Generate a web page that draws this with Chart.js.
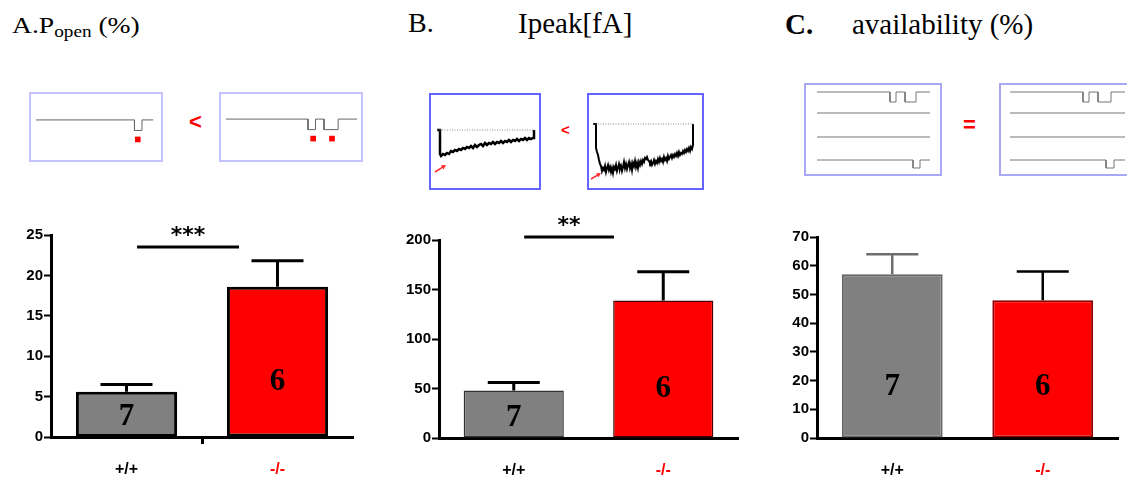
<!DOCTYPE html>
<html>
<head>
<meta charset="utf-8">
<title>Popen / Ipeak / availability</title>
<script src="https://cdn.jsdelivr.net/npm/chart.js@4.4.1/dist/chart.umd.min.js"></script>
<style>
  html, body { margin: 0; padding: 0; background: #fff; }
  body { width: 1127px; height: 486px; position: relative; overflow: hidden; }
  .title { position: absolute; font-family: "Liberation Serif", "Times New Roman", serif; line-height: 1; white-space: nowrap; color: #000; }
  .sym { position: absolute; color: #ff0000; font-family: "Liberation Sans", Arial, sans-serif; font-weight: bold; line-height: 1; }
  .inset { position: absolute; box-sizing: border-box; background: #fff; }
  .inset canvas { display: block; }
  canvas.main { position: absolute; }
</style>
</head>
<body>

<!-- panel titles -->
<div class="title" style="left:12px;top:14px;font-size:23px;transform:scaleX(1.2);transform-origin:0 0">A.P<span style="font-size:16px;position:relative;top:4px">open</span> (%)</div>
<div class="title" style="left:408px;top:9px;font-size:28px">B.</div>
<div class="title" style="left:518px;top:9px;font-size:29px">Ipeak[fA]</div>
<div class="title" style="left:785px;top:10px;font-size:29px;font-weight:bold">C.</div>
<div class="title" style="left:852px;top:10px;font-size:29px">availability (%)</div>

<!-- example recordings -->
<div class="inset" style="left:29px;top:92px;width:134px;height:70px;border:2px solid #c2c2ff"><canvas id="popenTraceWT" width="130" height="66"></canvas></div>
<div class="sym" style="left:189px;top:111px;font-size:22px">&lt;</div>
<div class="inset" style="left:219px;top:92px;width:144px;height:70px;border:2px solid #c2c2ff"><canvas id="popenTraceKO" width="140" height="66"></canvas></div>

<div class="inset" style="left:429px;top:93px;width:112px;height:97px;border:2px solid #6464ff"><canvas id="ipeakTraceWT" width="108" height="93"></canvas></div>
<div class="sym" style="left:561px;top:122px;font-size:15px">&lt;</div>
<div class="inset" style="left:587px;top:93px;width:117px;height:97px;border:2px solid #6464ff"><canvas id="ipeakTraceKO" width="113" height="93"></canvas></div>

<div class="inset" style="left:804px;top:83px;width:138px;height:93px;border:2px solid #a8a8f4"><canvas id="availTraceWT" width="134" height="89"></canvas></div>
<div class="sym" style="left:963px;top:114px;font-size:22px">=</div>
<div class="inset" style="left:999px;top:83px;width:138px;height:93px;border:2px solid #a8a8f4"><canvas id="availTraceKO" width="134" height="89"></canvas></div>

<!-- summary bar charts -->
<canvas id="popenChart" class="main" style="left:0;top:210px" width="372" height="276"></canvas>
<canvas id="ipeakChart" class="main" style="left:390px;top:210px" width="360" height="276"></canvas>
<canvas id="availChart" class="main" style="left:765px;top:210px" width="362" height="276"></canvas>

<script>
/* ---------- data ---------- */
const genotypes = ['+/+', '-/-'];
const genotypeColors = ['#000000', '#ff0000'];
const barFills = ['#808080', '#ff0000'];
const cellCounts = [7, 6];

const popenMean = [5.6, 18.6];
const popenSem = [0.9, 3.2];
const popenTicks = [0, 5, 10, 15, 20, 25];

const ipeakMean = [48, 139];
const ipeakSem = [8, 29];
const ipeakTicks = [0, 50, 100, 150, 200];

const availMean = [57, 48];
const availSem = [7, 10];
const availTicks = [0, 10, 20, 30, 40, 50, 60, 70];

// single-channel sweeps, [ms, pA], open level = -1 pA
const popenSweepWT = [[1, 0], [106, 0], [106, -1], [114, -1], [114, 0], [126, 0]];
const popenSweepKO = [[1, 0], [88, 0], [88, -1], [96, -1], [96, 0], [105, 0], [105, -1], [120, -1], [120, 0], [140, 0]];
const popenOpeningsWT = [109.5];
const popenOpeningsKO = [93.5, 113.5];

// ensemble average currents, [ms, fA]
const ipeakTraceWT = [[6, 0], [9, 0], [9, -24], [10, -26], [12, -24], [14, -25], [16, -23], [18, -24], [20, -21], [22, -22],
  [24, -20], [26, -21], [28, -19], [30, -20], [32, -18], [34, -19], [36, -17], [38, -18], [40, -16], [42, -18], [44, -15],
  [46, -17], [48, -15], [50, -14], [52, -16], [54, -13], [56, -15], [58, -13], [60, -14], [62, -12], [64, -14], [66, -12],
  [68, -13], [70, -11], [72, -13], [74, -11], [76, -12], [78, -10], [80, -12], [82, -10], [84, -11], [86, -9], [88, -11],
  [90, -9], [92, -10], [94, -8], [96, -10], [98, -8], [100, -9], [102, -8], [103, -8], [103, 0]];
const ipeakTraceKO = [[4, 0], [7, 0], [7, -24], [8, -28], [9, -31], [10, -36], [11, -40], [12, -42], [13, -47], [14, -44],
  [15, -46], [16, -42], [17, -48], [18, -44], [19, -41], [20, -46], [21, -43], [22, -48], [23, -44], [24, -49], [25, -43],
  [26, -45], [27, -41], [28, -47], [29, -44], [30, -40], [31, -45], [32, -42], [33, -47], [34, -43], [35, -38], [36, -44],
  [37, -40], [38, -45], [39, -41], [40, -38], [41, -44], [42, -40], [43, -46], [44, -39], [45, -42], [46, -37], [47, -43],
  [48, -39], [49, -44], [50, -38], [51, -41], [52, -37], [53, -40], [54, -36], [55, -38], [56, -34], [57, -35], [58, -33],
  [59, -36], [60, -37], [61, -39], [62, -37], [63, -41], [64, -39], [65, -36], [66, -40], [67, -37], [68, -39], [69, -35],
  [70, -38], [71, -34], [72, -37], [73, -35], [74, -38], [75, -33], [76, -36], [77, -34], [78, -37], [79, -32], [80, -35],
  [81, -33], [82, -31], [83, -34], [84, -31], [85, -33], [86, -30], [87, -32], [88, -29], [89, -32], [90, -28], [91, -31],
  [92, -29], [93, -30], [94, -27], [95, -29], [96, -26], [97, -28], [98, -25], [99, -27], [100, -24], [101, -27],
  [102, -23], [103, -25], [104, -21], [104, 0]];
const ipeakBaselineWT = [[6, 0], [104, 0]];
const ipeakBaselineKO = [[4, 0], [106, 0]];

// four consecutive sweeps per patch, [ms, pA]
const availSweepsWT = [
  [[11, 0], [84, 0], [84, -1], [90, -1], [90, 0], [99, 0], [99, -1], [110, -1], [110, 0], [124, 0]],
  [[11, 0], [124, 0]],
  [[11, 0], [124, 0]],
  [[11, 0], [107, 0], [107, -0.8], [114, -0.8], [114, 0], [124, 0]]
];
const availSweepsKO = [
  [[9, 0], [82, 0], [82, -1], [88, -1], [88, 0], [97, 0], [97, -1], [110, -1], [110, 0], [124, 0]],
  [[9, 0], [124, 0]],
  [[9, 0], [124, 0]],
  [[9, 0], [105, 0], [105, -0.8], [113, -0.8], [113, 0], [124, 0]]
];

/* ---------- helpers ---------- */
Chart.defaults.animation = false;
Chart.defaults.devicePixelRatio = 1;

const tickFont = { family: 'Liberation Sans', size: 15, weight: 'bold' };
const labelFont = { family: 'Liberation Sans', size: 16, weight: 'bold' };

function errorBars(sem, colors, width, capHalf) {
  return {
    id: 'errorBars',
    afterDatasetsDraw(chart) {
      const { ctx } = chart;
      const y = chart.scales.y;
      const values = chart.data.datasets[0].data;
      chart.getDatasetMeta(0).data.forEach((bar, i) => {
        const base = y.getPixelForValue(values[i]);
        const tip = y.getPixelForValue(values[i] + sem[i]);
        ctx.save();
        ctx.strokeStyle = colors[i];
        ctx.lineWidth = width;
        ctx.beginPath();
        ctx.moveTo(bar.x, base);
        ctx.lineTo(bar.x, tip);
        ctx.moveTo(bar.x - capHalf, tip);
        ctx.lineTo(bar.x + capHalf, tip);
        ctx.stroke();
        ctx.restore();
      });
    }
  };
}

function countLabels(levels) {
  return {
    id: 'countLabels',
    afterDatasetsDraw(chart) {
      const { ctx } = chart;
      const y = chart.scales.y;
      chart.getDatasetMeta(0).data.forEach((bar, i) => {
        ctx.save();
        ctx.fillStyle = '#000';
        ctx.font = 'bold 31px "Liberation Serif"';
        ctx.textAlign = 'center';
        ctx.textBaseline = 'middle';
        ctx.fillText(String(cellCounts[i]), bar.x, y.getPixelForValue(levels[i]));
        ctx.restore();
      });
    }
  };
}

function sigBracket(from, to, level, stars) {
  return {
    id: 'sigBracket',
    afterDraw(chart) {
      const { ctx, scales: { x, y } } = chart;
      const x0 = x.getPixelForValue(from);
      const x1 = x.getPixelForValue(to);
      const py = y.getPixelForValue(level);
      ctx.save();
      ctx.strokeStyle = '#000';
      ctx.lineWidth = 3;
      ctx.beginPath();
      ctx.moveTo(x0, py);
      ctx.lineTo(x1, py);
      ctx.stroke();
      ctx.fillStyle = '#000';
      ctx.font = 'bold 22px "DejaVu Sans"';
      ctx.textAlign = 'center';
      ctx.textBaseline = 'alphabetic';
      ctx.fillText(stars, (x0 + x1) / 2, py - 5);
      ctx.restore();
    }
  };
}

function barChart(id, o) {
  return new Chart(document.getElementById(id), {
    type: 'bar',
    data: {
      labels: genotypes,
      datasets: [{
        data: o.mean,
        backgroundColor: barFills,
        borderColor: o.edge,
        borderWidth: o.edgeWidth,
        borderSkipped: false,
        categoryPercentage: 1,
        barPercentage: 0.67
      }]
    },
    options: {
      responsive: false,
      layout: { padding: { left: 0, right: o.padRight, top: o.padTop, bottom: 0 } },
      plugins: { legend: { display: false }, tooltip: { enabled: false } },
      scales: {
        x: {
          offset: true,
          grid: {
            display: true, offset: true, drawOnChartArea: false, drawTicks: true,
            tickLength: 7, tickWidth: 3,
            tickColor: ctx => (o.midTick && ctx.index === 1) ? '#000' : 'rgba(0,0,0,0)'
          },
          border: { display: true, color: '#000', width: 3 },
          ticks: { color: ctx => genotypeColors[ctx.index], font: labelFont, padding: 16 },
          afterFit: s => { s.height = o.xHeight; }
        },
        y: {
          min: 0,
          max: o.ticks[o.ticks.length - 1],
          afterBuildTicks: s => { s.ticks = o.ticks.map(v => ({ value: v })); },
          grid: { drawOnChartArea: false, drawTicks: true, tickLength: 7, tickWidth: 2, tickColor: '#000' },
          border: { display: true, color: '#000', width: 3 },
          ticks: { color: '#000', font: tickFont, padding: 1 },
          afterFit: s => { s.width = o.yWidth; }
        }
      }
    },
    plugins: o.plugins
  });
}

function traceChart(id, xMax, yMin, yMax, datasets, plugins) {
  return new Chart(document.getElementById(id), {
    type: 'scatter',
    data: { datasets },
    options: {
      responsive: false,
      layout: { padding: 0 },
      elements: { line: { tension: 0 } },
      plugins: { legend: { display: false }, tooltip: { enabled: false } },
      scales: {
        x: { type: 'linear', min: 0, max: xMax, display: false },
        y: { type: 'linear', min: yMin, max: yMax, display: false }
      }
    },
    plugins: plugins || []
  });
}

const toPoints = arr => arr.map(([t, v]) => ({ x: t, y: v }));

function sweepLine(arr, color, width, offset) {
  return {
    data: arr.map(([t, v]) => ({ x: t, y: v + (offset || 0) })),
    showLine: true, pointRadius: 0, borderColor: color, borderWidth: width
  };
}

function openingMarks(times, level) {
  return {
    data: times.map(t => ({ x: t, y: level })),
    showLine: false, pointStyle: 'rect', pointRadius: 4,
    backgroundColor: '#ff0000', borderColor: '#ff0000', borderWidth: 0
  };
}

function redArrow(tail, tip) {
  return {
    id: 'redArrow',
    afterDatasetsDraw(chart) {
      const { ctx, scales: { x, y } } = chart;
      const x0 = x.getPixelForValue(tail[0]), y0 = y.getPixelForValue(tail[1]);
      const x1 = x.getPixelForValue(tip[0]), y1 = y.getPixelForValue(tip[1]);
      const a = Math.atan2(y1 - y0, x1 - x0);
      ctx.save();
      ctx.strokeStyle = '#ff2a2a';
      ctx.fillStyle = '#ff2a2a';
      ctx.lineWidth = 1.5;
      ctx.beginPath();
      ctx.moveTo(x0, y0);
      ctx.lineTo(x1 - 3 * Math.cos(a), y1 - 3 * Math.sin(a));
      ctx.stroke();
      ctx.beginPath();
      ctx.moveTo(x1, y1);
      ctx.lineTo(x1 - 5 * Math.cos(a - 0.5), y1 - 5 * Math.sin(a - 0.5));
      ctx.lineTo(x1 - 5 * Math.cos(a + 0.5), y1 - 5 * Math.sin(a + 0.5));
      ctx.closePath();
      ctx.fill();
      ctx.restore();
    }
  };
}

/* ---------- A: open probability ---------- */
traceChart('popenTraceWT', 130, -3.42, 2.08, [
  sweepLine(popenSweepWT, '#666', 1),
  openingMarks(popenOpeningsWT, -1.85)
]);
traceChart('popenTraceKO', 140, -3.5, 2.0, [
  sweepLine(popenSweepKO, '#666', 1),
  openingMarks(popenOpeningsKO, -1.85)
]);

barChart('popenChart', {
  mean: popenMean, ticks: popenTicks,
  edge: '#000', edgeWidth: 3, midTick: true,
  yWidth: 51, xHeight: 49, padTop: 25, padRight: 19,
  plugins: [
    errorBars(popenSem, ['#000', '#000'], 3, 26),
    countLabels([2.5, 6.8]),
    sigBracket(0.07, 0.745, 23.5, '***')
  ]
});

/* ---------- B: peak ensemble current ---------- */
const dotted = arr => ({
  data: toPoints(arr), showLine: true, pointRadius: 0,
  borderColor: '#8a8a8a', borderWidth: 1, borderDash: [1, 1.5]
});

traceChart('ipeakTraceWT', 108, -58, 35, [
  dotted(ipeakBaselineWT),
  sweepLine(ipeakTraceWT, '#000', 2.5)
], [redArrow([4, -42], [15, -35])]);
traceChart('ipeakTraceKO', 113, -64, 29, [
  dotted(ipeakBaselineKO),
  sweepLine(ipeakTraceKO, '#000', 2)
], [redArrow([2, -55], [12, -49])]);

barChart('ipeakChart', {
  mean: ipeakMean, ticks: ipeakTicks,
  edge: ['#333', '#4a0000'], edgeWidth: 1.5, midTick: false,
  yWidth: 49, xHeight: 48, padTop: 30, padRight: 12,
  plugins: [
    errorBars(ipeakSem, ['#000', '#000'], 3, 26),
    countLabels([20, 50]),
    sigBracket(0.07, 0.67, 203, '**')
  ]
});

/* ---------- C: availability ---------- */
const sweepOffsets = [0, -2.1, -4.5, -6.8];

traceChart('availTraceWT', 134, -8.2, 0.7,
  availSweepsWT.map((s, i) => sweepLine(s, '#777', 1, sweepOffsets[i])));
traceChart('availTraceKO', 134, -8.2, 0.7,
  availSweepsKO.map((s, i) => sweepLine(s, '#777', 1, sweepOffsets[i])));

barChart('availChart', {
  mean: availMean, ticks: availTicks,
  edge: ['#666', '#8a0000'], edgeWidth: 2, midTick: false,
  yWidth: 52, xHeight: 48, padTop: 27, padRight: 9,
  plugins: [
    errorBars(availSem, ['#6e6e6e', '#000'], 2.5, 26),
    countLabels([17.7, 17.7])
  ]
});
</script>
</body>
</html>
